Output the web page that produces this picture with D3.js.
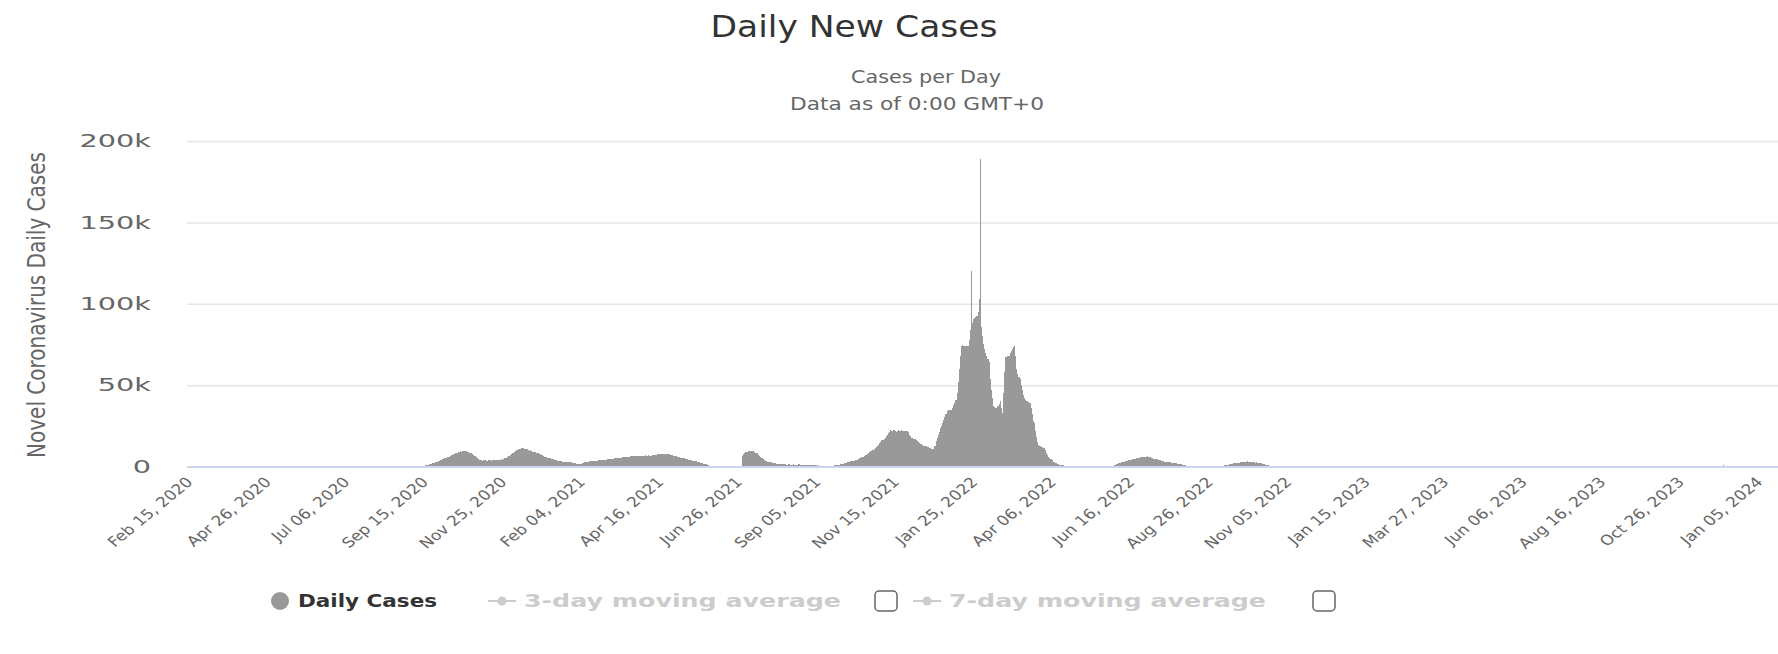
<!DOCTYPE html>
<html>
<head>
<meta charset="utf-8">
<script src="https://cdn.jsdelivr.net/npm/d3@7"></script>
<style>
  html, body { margin: 0; padding: 0; background: #fff; }
  svg { display: block; font-family: "DejaVu Sans", sans-serif; }
</style>
</head>
<body>
<div id="chart"></div>
<script>
// day range shown on the category axis
const firstDay = "2020-02-15";
const lastDay = "2024-01-23";

const tickLabels = ["Feb 15, 2020", "Apr 26, 2020", "Jul 06, 2020", "Sep 15, 2020", "Nov 25, 2020",
    "Feb 04, 2021", "Apr 16, 2021", "Jun 26, 2021", "Sep 05, 2021", "Nov 15, 2021",
    "Jan 25, 2022", "Apr 06, 2022", "Jun 16, 2022", "Aug 26, 2022", "Nov 05, 2022",
    "Jan 15, 2023", "Mar 27, 2023", "Jun 06, 2023", "Aug 16, 2023", "Oct 26, 2023", "Jan 05, 2024"];

const yTicks = [0, 50, 100, 150, 200];
const yTickLabels = ["0", "50k", "100k", "150k", "200k"];

// daily cases in thousands, days outside these runs are 0
const wave2020Start = "2020-09-12";
const wave2020 = [0.2,0.3,0.4,0.5,0.6,0.8,0.9,
    1.0,1.2,1.4,1.5,1.8,2.0,2.2,2.5,
    2.7,3.0,3.3,3.6,4.0,4.3,4.6,5.0,5.2,5.4,5.7,5.9,
    6.0,6.4,6.9,7.2,7.6,8.0,8.3,8.6,8.9,9.1,9.3,9.2,9.5,9.4,
    9.4,9.3,9.0,8.8,8.5,8.2,8.0,7.5,7.0,6.4,5.8,5.2,4.6,4.2,
    4.0,3.8,3.5,3.9,4.3,3.6,3.4,3.8,4.2,3.9,3.5,3.7,4.1,3.8,3.9,4.2,3.8,3.7,4.0,4.4,4.1,4.6,
    5.0,5.4,5.9,6.3,6.7,7.2,7.6,8.0,8.6,9.2,9.6,10.1,10.5,10.8,11.0,11.2,11.3,
    11.4,11.0,10.5,10.8,10.2,9.8,9.9,9.5,9.2,9.0,8.9,
    8.8,8.5,8.2,7.8,7.5,7.1,6.8,6.4,6.1,5.8,5.6,5.4,
    5.3,5.0,4.8,4.6,4.4,4.2,4.0,3.8,3.6,3.4,3.3,3.2,3.0,2.9,2.8,2.8,2.7,2.7,
    2.7,2.6,2.5,2.3,2.2,2.0,1.9,1.8,1.7,1.6,1.6,1.8,2.0,2.3,2.5,
    2.7,2.8,2.9,3.0,3.1,3.2,3.3,3.4,3.5,3.5,3.6,3.6,3.7,3.7,
    3.7,3.8,3.9,4.0,4.1,4.2,4.4,4.5,4.6,4.7,4.8,4.9,5.0,5.1,5.2,5.2,
    5.3,5.4,5.5,5.6,5.7,5.8,5.9,5.9,6.0,6.1,6.1,6.2,6.2,6.3,6.3,
    6.3,6.4,6.4,6.5,6.4,6.6,6.5,6.7,6.6,6.8,6.6,6.7,6.9,6.7,6.6,
    6.7,6.9,7.1,7.3,7.2,7.5,7.6,7.4,7.7,7.8,7.6,7.8,7.5,7.7,7.4,7.5,
    7.4,7.2,7.0,6.8,6.6,6.4,6.2,6.0,5.8,5.6,5.5,5.3,
    5.2,5.0,4.8,4.6,4.4,4.2,4.0,3.9,3.7,3.6,3.5,3.4,
    3.3,3.0,2.8,2.6,2.4,2.2,2.0,1.8,1.7,1.6,1.2,0.8,0.3];

const wave2021Start = "2021-06-30";
const wave2021 = [0.6,6.7,7.5,8.2,8.8,9.2,9.5,9.6,9.7,9.8,
    9.8,9.6,9.2,8.6,8.0,7.2,6.5,5.9,5.5,5.0,4.5,4.0,3.6,3.2,3.0,2.8,
    2.7,2.5,2.3,2.1,2.0,1.9,1.8,1.7,1.6,1.6,1.5,1.4,1.4,1.3,1.3,
    1.2,1.0,1.3,1.1,0.9,1.2,1.3,1.0,0.8,1.2,1.1,1.3,0.9,1.0,1.2,0.8,1.1,0.7,1.1,1.2,0.9,1.0,0.8,1.1,0.9,0.7,1.0,0.8,0.6,0.7,0.6,
    0.5,0.5,0.4,0.5,0.6,0.5,0.4,0.5,0.5,0.6,0.5,0.6,0.7,0.7,0.8,0.9,1.0,1.2,1.4,
    1.6,1.8,2.0,2.2,2.4,2.6,2.8,3.0,3.1,3.3,3.4,3.5,3.7,
    4.0,4.3,4.6,5.0,5.3,5.7,6.0,6.4,6.8,7.2,7.8,8.3,8.8,9.3,9.8,10.3,10.8,11.3,11.9,12.5,
    13.5,14.4,15.2,16.0,16.5,17.0,17.8,18.5,19.5,20.5,21.5,
    22.6,22.0,21.8,22.3,22.0,21.5,22.1,22.4,21.8,21.9,22.2,21.6,22.0,21.7,21.8,21.6,21.2,
    19.5,18.5,17.8,17.5,17.2,16.8,16.0,15.5,15.0,14.4,14.0,13.6,13.2,12.8,12.5,12.3,12.0,11.7,11.4,11.1,10.9,10.7,10.8,12.5,
    15.4,17.5,19.5,21.5,23.5,25.0,26.7,28.5,30.5,32.5,34.0,34.5,34.8,35.0,35.0,36.0,37.5,39.0,41.0,45.0,52.0,60.0,68.0,
    74.0,74.5,73.8,74.0,74.3,73.9,74.0,78.0,84.0,120.0,88.0,90.5,91.5,92.0,92.6,95.0,103.0,189.0,
    86.0,80.0,75.0,72.0,70.0,68.0,66.0,64.0,53.5,47.0,42.0,37.0,36.5,36.0,36.0,37.0,38.5,40.0,36.0,33.0,
    45.0,58.0,67.0,67.5,68.0,68.0,69.5,71.0,72.5,73.5,74.0,68.0,60.0,57.0,55.0,
    53.5,50.0,47.0,44.0,42.0,41.0,40.5,40.0,39.5,39.0,36.0,32.0,28.0,26.7,22.0,18.0,15.0,13.0,12.3,12.0,
    11.8,11.5,11.3,10.0,8.5,7.0,6.0,5.2,4.5,3.8,3.0,2.6,2.2,1.9,1.6,1.3,1.0,0.9,0.8,0.7,0.6,0.5,0.4,0.4,0.3];

const summer2022Start = "2022-06-01";
const summer2022 = [0.5,0.8,1.1,1.4,1.7,2.0,2.2,2.4,2.6,2.8,3.0,3.2,3.4,3.6,3.8,
    4.0,4.2,4.3,4.5,4.7,4.9,5.0,5.2,5.4,5.3,5.6,5.8,5.7,6.0,6.1,6.0,
    6.2,5.9,6.1,5.6,5.4,5.0,4.9,4.7,4.6,4.5,4.2,4.0,3.8,3.6,3.4,
    3.2,3.0,2.9,2.8,2.6,2.5,2.5,2.3,2.2,2.1,2.0,1.9,1.8,1.7,1.6,
    1.4,1.3,1.2,1.0,0.9,0.8,0.6,0.5,0.4,0.3];

const autumn2022Start = "2022-09-08";
const autumn2022 = [0.3,0.5,0.7,0.9,1.0,1.2,1.3,1.5,1.6,1.8,1.9,2.0,2.1,2.2,2.3,2.4,2.5,2.6,2.7,2.8,2.9,3.0,2.9,3.1,
    3.0,2.8,2.9,2.7,2.6,2.8,2.4,2.5,2.3,2.2,2.0,1.9,1.7,1.5,1.3,1.1,0.9,0.8,0.7,0.6,0.5,0.4,0.3,0.2];

const lateStart = "2023-12-05";
const late = [0.8];

const W = 1778, H = 654;
const plot = { left: 187, right: 1778, top: 141, bottom: 466.5 };

const parseDay = d3.utcParse("%Y-%m-%d");
const dayKey = d3.utcFormat("%Y-%m-%d");
const dayLabel = d3.utcFormat("%b %d, %Y");

const days = d3.utcDay.range(parseDay(firstDay), d3.utcDay.offset(parseDay(lastDay), 1));
const valueByDay = new Map();
[[wave2020Start, wave2020], [wave2021Start, wave2021], [summer2022Start, summer2022],
 [autumn2022Start, autumn2022], [lateStart, late]].forEach(([start, vals]) => {
    const s = parseDay(start);
    vals.forEach((v, i) => valueByDay.set(dayKey(d3.utcDay.offset(s, i)), v));
});
const series = days.map(d => ({ key: dayKey(d), label: dayLabel(d), value: valueByDay.get(dayKey(d)) || 0 }));
const keyByLabel = new Map(series.map(d => [d.label, d.key]));

const svg = d3.select("#chart").append("svg")
    .attr("width", W)
    .attr("height", H);

const x = d3.scaleBand()
    .domain(series.map(d => d.key))
    .range([plot.left, plot.right])
    .padding(0);

const y = d3.scaleLinear()
    .domain([0, 200])
    .range([plot.bottom, plot.top]);

// titles (the source font runs wider, so widths are pinned)
svg.append("text")
    .attr("x", 854 - 143.5).attr("y", 37)
    .attr("textLength", 287).attr("lengthAdjust", "spacingAndGlyphs")
    .style("font-size", "30px")
    .style("fill", "#333")
    .text("Daily New Cases");

svg.append("text")
    .attr("x", 926 - 75).attr("y", 83)
    .attr("textLength", 150).attr("lengthAdjust", "spacingAndGlyphs")
    .style("font-size", "17px")
    .style("fill", "#666")
    .text("Cases per Day");

svg.append("text")
    .attr("x", 917 - 127).attr("y", 110)
    .attr("textLength", 254).attr("lengthAdjust", "spacingAndGlyphs")
    .style("font-size", "17px")
    .style("fill", "#666")
    .text("Data as of 0:00 GMT+0");

// y axis with grid
const yAxis = svg.append("g")
    .attr("transform", `translate(${plot.left},0)`)
    .call(d3.axisLeft(y)
        .tickValues(yTicks)
        .tickFormat((d, i) => yTickLabels[i])
        .tickSize(-(plot.right - plot.left)));
yAxis.select(".domain").remove();
yAxis.selectAll("line").attr("stroke", "#e6e6e6").attr("stroke-width", 1.5);
yAxis.selectAll("text")
    .attr("x", 0)
    .attr("transform", `translate(${151 - plot.left},0) scale(1.6,1)`)
    .style("font-size", "18px")
    .style("fill", "#666")
    .style("font-family", "DejaVu Sans, sans-serif");

svg.append("text")
    .attr("transform", `translate(45,305) scale(1.2,1) rotate(-90)`)
    .attr("text-anchor", "middle")
    .attr("textLength", 306).attr("lengthAdjust", "spacingAndGlyphs")
    .style("font-size", "20px")
    .style("fill", "#666")
    .text("Novel Coronavirus Daily Cases");

// bars
svg.append("g")
    .attr("shape-rendering", "crispEdges")
    .selectAll("rect")
    .data(series.filter(d => d.value > 0))
    .join("rect")
    .attr("x", d => x(d.key))
    .attr("y", d => y(d.value))
    .attr("width", x.bandwidth())
    .attr("height", d => y(0) - y(d.value))
    .attr("fill", "#999");

// x axis
const xAxis = svg.append("g")
    .attr("transform", `translate(0,${plot.bottom})`)
    .call(d3.axisBottom(x)
        .tickValues(tickLabels.map(l => keyByLabel.get(l)))
        .tickFormat(k => tickLabels.find(l => keyByLabel.get(l) === k))
        .tickSize(0));
xAxis.select(".domain")
    .attr("stroke", "#ccd6eb")
    .attr("stroke-width", 2);
xAxis.selectAll("text")
    .attr("x", 0).attr("y", 0).attr("dy", "0.35em")
    .attr("text-anchor", "end")
    .attr("transform", "translate(2,13) scale(1.22,1) rotate(-45)")
    .style("font-size", "14px")
    .style("fill", "#666")
    .style("font-family", "DejaVu Sans, sans-serif");

// legend
const legend = svg.append("g").attr("transform", "translate(0,601)");

legend.append("circle")
    .attr("cx", 280).attr("cy", 0).attr("r", 9)
    .attr("fill", "#999");
legend.append("text")
    .attr("x", 298).attr("y", 6)
    .attr("textLength", 139).attr("lengthAdjust", "spacingAndGlyphs")
    .style("font-size", "17px").style("font-weight", "bold")
    .style("fill", "#333")
    .text("Daily Cases");

const hidden = [
    { name: "3-day moving average", x0: 488, box: 875 },
    { name: "7-day moving average", x0: 913, box: 1313 }
];
hidden.forEach(h => {
    legend.append("line")
        .attr("x1", h.x0).attr("x2", h.x0 + 28)
        .attr("y1", 0).attr("y2", 0)
        .attr("stroke", "#ccc").attr("stroke-width", 2);
    legend.append("circle")
        .attr("cx", h.x0 + 14).attr("cy", 0).attr("r", 4.5)
        .attr("fill", "#ccc");
    legend.append("text")
        .attr("x", h.x0 + 36).attr("y", 6)
        .attr("textLength", 317).attr("lengthAdjust", "spacingAndGlyphs")
        .style("font-size", "17px").style("font-weight", "bold")
        .style("fill", "#ccc")
        .text(h.name);
    legend.append("rect")
        .attr("x", h.box).attr("y", -10)
        .attr("width", 22).attr("height", 20)
        .attr("rx", 4)
        .attr("fill", "#fff")
        .attr("stroke", "#666")
        .attr("stroke-width", 1.5);
});
</script>
</body>
</html>
